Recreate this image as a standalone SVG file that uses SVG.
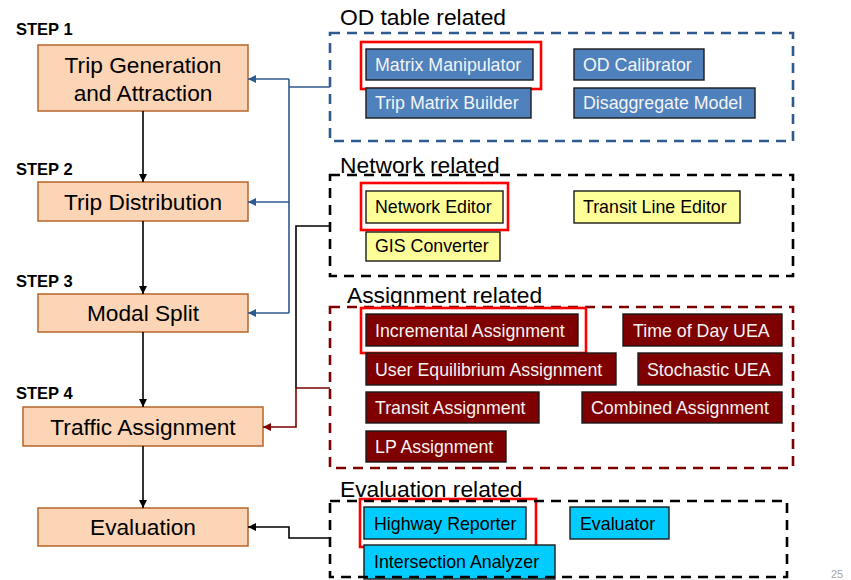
<svg xmlns="http://www.w3.org/2000/svg" width="851" height="580" viewBox="0 0 851 580">
  <style>
    .step-label { font-family: "Liberation Sans", Arial, sans-serif; font-size: 16.5px; font-weight: bold; fill: #000; }
    .step-box { fill: #FBD5B5; stroke: #B7652B; stroke-width: 1.5; }
    .step-text { font-family: "Liberation Sans", Arial, sans-serif; font-size: 22.7px; fill: #000; text-anchor: middle; }
    .group-title { font-family: "Liberation Sans", Arial, sans-serif; font-size: 22.8px; fill: #000; }
    .frame { fill: none; stroke-width: 2.6; stroke-dasharray: 10 7; }
    .tool { stroke: #1a1a1a; stroke-width: 1.4; }
    .tool-text { font-family: "Liberation Sans", Arial, sans-serif; font-size: 17.8px; }
    .od .tool { fill: #4F81BD; }
    .od .tool-text { fill: #F4F4F4; }
    .net .tool { fill: #FFFF99; }
    .net .tool-text { fill: #000; }
    .asg .tool { fill: #7F0000; }
    .asg .tool-text { fill: #F4F4F4; }
    .eva .tool { fill: #00CCFF; }
    .eva .tool-text { fill: #000; }
    .highlight { fill: none; stroke: #FF0000; stroke-width: 2.6; }
    .link { fill: none; stroke-width: 1.6; }
  </style>
  <defs>
    <marker id="head-black" viewBox="0 0 10 10" refX="10" refY="5" markerWidth="5" markerHeight="5" orient="auto" markerUnits="strokeWidth">
      <path d="M0,0 L10,5 L0,10 Z" fill="#000"/>
    </marker>
    <marker id="head-blue" viewBox="0 0 10 10" refX="10" refY="5" markerWidth="5" markerHeight="5" orient="auto" markerUnits="strokeWidth">
      <path d="M0,0 L10,5 L0,10 Z" fill="#2F5A8F"/>
    </marker>
    <marker id="head-red" viewBox="0 0 10 10" refX="10" refY="5" markerWidth="5" markerHeight="5" orient="auto" markerUnits="strokeWidth">
      <path d="M0,0 L10,5 L0,10 Z" fill="#7F0000"/>
    </marker>
  </defs>

  <rect width="851" height="580" fill="#fff"/>

  <!-- step labels -->
  <text class="step-label" x="16" y="35">STEP 1</text>
  <text class="step-label" x="16" y="175">STEP 2</text>
  <text class="step-label" x="16" y="287">STEP 3</text>
  <text class="step-label" x="16" y="399">STEP 4</text>

  <!-- process steps -->
  <g id="step-trip-generation">
    <rect class="step-box" x="38" y="45" width="210" height="66"/>
    <text class="step-text" x="143" y="73">Trip Generation</text>
    <text class="step-text" x="143" y="101">and Attraction</text>
  </g>
  <g id="step-trip-distribution">
    <rect class="step-box" x="38" y="182" width="210" height="39"/>
    <text class="step-text" x="143" y="210">Trip Distribution</text>
  </g>
  <g id="step-modal-split">
    <rect class="step-box" x="38" y="294" width="210" height="38"/>
    <text class="step-text" x="143" y="321">Modal Split</text>
  </g>
  <g id="step-traffic-assignment">
    <rect class="step-box" x="23" y="407" width="240" height="39"/>
    <text class="step-text" x="143" y="435">Traffic Assignment</text>
  </g>
  <g id="step-evaluation">
    <rect class="step-box" x="38" y="508" width="210" height="38"/>
    <text class="step-text" x="143" y="535">Evaluation</text>
  </g>

  <!-- OD table tools -->
  <g id="group-od" class="od">
    <text class="group-title" x="340" y="25">OD table related</text>
    <rect class="frame" x="330" y="33" width="463" height="108" stroke="#2F5A8F"/>
    <g id="tool-matrix-manipulator">
      <rect class="tool" x="366" y="49" width="167" height="31"/>
      <text class="tool-text" x="375" y="71">Matrix Manipulator</text>
      <rect class="highlight" x="361" y="42" width="180" height="47"/>
    </g>
    <g id="tool-trip-matrix-builder">
      <rect class="tool" x="366" y="88" width="165" height="30"/>
      <text class="tool-text" x="375" y="109">Trip Matrix Builder</text>
    </g>
    <g id="tool-od-calibrator">
      <rect class="tool" x="574" y="49" width="130" height="31"/>
      <text class="tool-text" x="583" y="71">OD Calibrator</text>
    </g>
    <g id="tool-disaggregate-model">
      <rect class="tool" x="574" y="88" width="181" height="30"/>
      <text class="tool-text" x="583" y="109">Disaggregate Model</text>
    </g>
  </g>

  <!-- network tools -->
  <g id="group-network" class="net">
    <rect class="frame" x="330" y="175" width="463" height="101" stroke="#000"/>
    <text class="group-title" x="340" y="173">Network related</text>
    <g id="tool-network-editor">
      <rect class="tool" x="366" y="191" width="137" height="32"/>
      <text class="tool-text" x="375" y="213">Network Editor</text>
      <rect class="highlight" x="361" y="183" width="147" height="47"/>
    </g>
    <g id="tool-gis-converter">
      <rect class="tool" x="366" y="232" width="134" height="29"/>
      <text class="tool-text" x="375" y="252">GIS Converter</text>
    </g>
    <g id="tool-transit-line-editor">
      <rect class="tool" x="574" y="191" width="166" height="32"/>
      <text class="tool-text" x="583" y="213">Transit Line Editor</text>
    </g>
  </g>

  <!-- assignment tools -->
  <g id="group-assignment" class="asg">
    <text class="group-title" x="347" y="303">Assignment related</text>
    <rect class="frame" x="330" y="307" width="463" height="161" stroke="#7F0000"/>
    <g id="tool-incremental-assignment">
      <rect class="tool" x="366" y="314" width="212" height="32"/>
      <text class="tool-text" x="375" y="337">Incremental Assignment</text>
      <rect class="highlight" x="361" y="308" width="225" height="45"/>
    </g>
    <g id="tool-user-equilibrium">
      <rect class="tool" x="366" y="353" width="250" height="32"/>
      <text class="tool-text" x="375" y="376">User Equilibrium Assignment</text>
    </g>
    <g id="tool-transit-assignment">
      <rect class="tool" x="366" y="392" width="173" height="31"/>
      <text class="tool-text" x="375" y="414">Transit Assignment</text>
    </g>
    <g id="tool-lp-assignment">
      <rect class="tool" x="366" y="431" width="140" height="31"/>
      <text class="tool-text" x="375" y="453">LP Assignment</text>
    </g>
    <g id="tool-time-of-day-uea">
      <rect class="tool" x="623" y="314" width="159" height="32"/>
      <text class="tool-text" x="633" y="337">Time of Day UEA</text>
    </g>
    <g id="tool-stochastic-uea">
      <rect class="tool" x="638" y="353" width="144" height="32"/>
      <text class="tool-text" x="647" y="376">Stochastic UEA</text>
    </g>
    <g id="tool-combined-assignment">
      <rect class="tool" x="582" y="392" width="200" height="31"/>
      <text class="tool-text" x="591" y="414">Combined Assignment</text>
    </g>
  </g>

  <!-- evaluation tools -->
  <g id="group-evaluation" class="eva">
    <text class="group-title" x="340" y="497">Evaluation related</text>
    <g id="tool-highway-reporter">
      <rect class="tool" x="364" y="507" width="162" height="32"/>
      <text class="tool-text" x="374" y="530">Highway Reporter</text>
      <rect class="highlight" x="360" y="499" width="176" height="48"/>
    </g>
    <g id="tool-evaluator">
      <rect class="tool" x="570" y="507" width="99" height="32"/>
      <text class="tool-text" x="580" y="530">Evaluator</text>
    </g>
    <g id="tool-intersection-analyzer">
      <rect class="tool" x="364" y="545" width="191" height="34"/>
      <text class="tool-text" x="374" y="568">Intersection Analyzer</text>
    </g>
    <rect class="frame" x="330" y="501" width="457" height="76" stroke="#000"/>
  </g>

  <!-- connectors -->
  <g id="connectors">
    <!-- step sequence -->
    <path class="link" stroke="#000" stroke-width="1.4" d="M143,111 V182" marker-end="url(#head-black)"/>
    <path class="link" stroke="#000" stroke-width="1.4" d="M143,221 V294" marker-end="url(#head-black)"/>
    <path class="link" stroke="#000" stroke-width="1.4" d="M143,332 V407" marker-end="url(#head-black)"/>
    <path class="link" stroke="#000" stroke-width="1.4" d="M143,446 V508" marker-end="url(#head-black)"/>
    <!-- OD table tools feed steps 1-3 -->
    <path class="link" stroke="#2F5A8F" d="M330,87 H289 M289,79 V313"/>
    <path class="link" stroke="#2F5A8F" d="M289,79 H248" marker-end="url(#head-blue)"/>
    <path class="link" stroke="#2F5A8F" d="M289,202 H248" marker-end="url(#head-blue)"/>
    <path class="link" stroke="#2F5A8F" d="M289,313 H248" marker-end="url(#head-blue)"/>
    <!-- network and assignment tools feed step 4 -->
    <path class="link" stroke="#000" d="M330,226 H296 V388"/>
    <path class="link" stroke="#7F0000" d="M330,388 H296 V427 H263" marker-end="url(#head-red)"/>
    <!-- evaluation tools feed evaluation -->
    <path class="link" stroke="#000" d="M330,538 H289 V527 H248" marker-end="url(#head-black)"/>
  </g>

  <!-- page number -->
  <text x="831" y="578" font-family="Liberation Sans, Arial, sans-serif" font-size="11" fill="#A6A6A6">25</text>
</svg>
